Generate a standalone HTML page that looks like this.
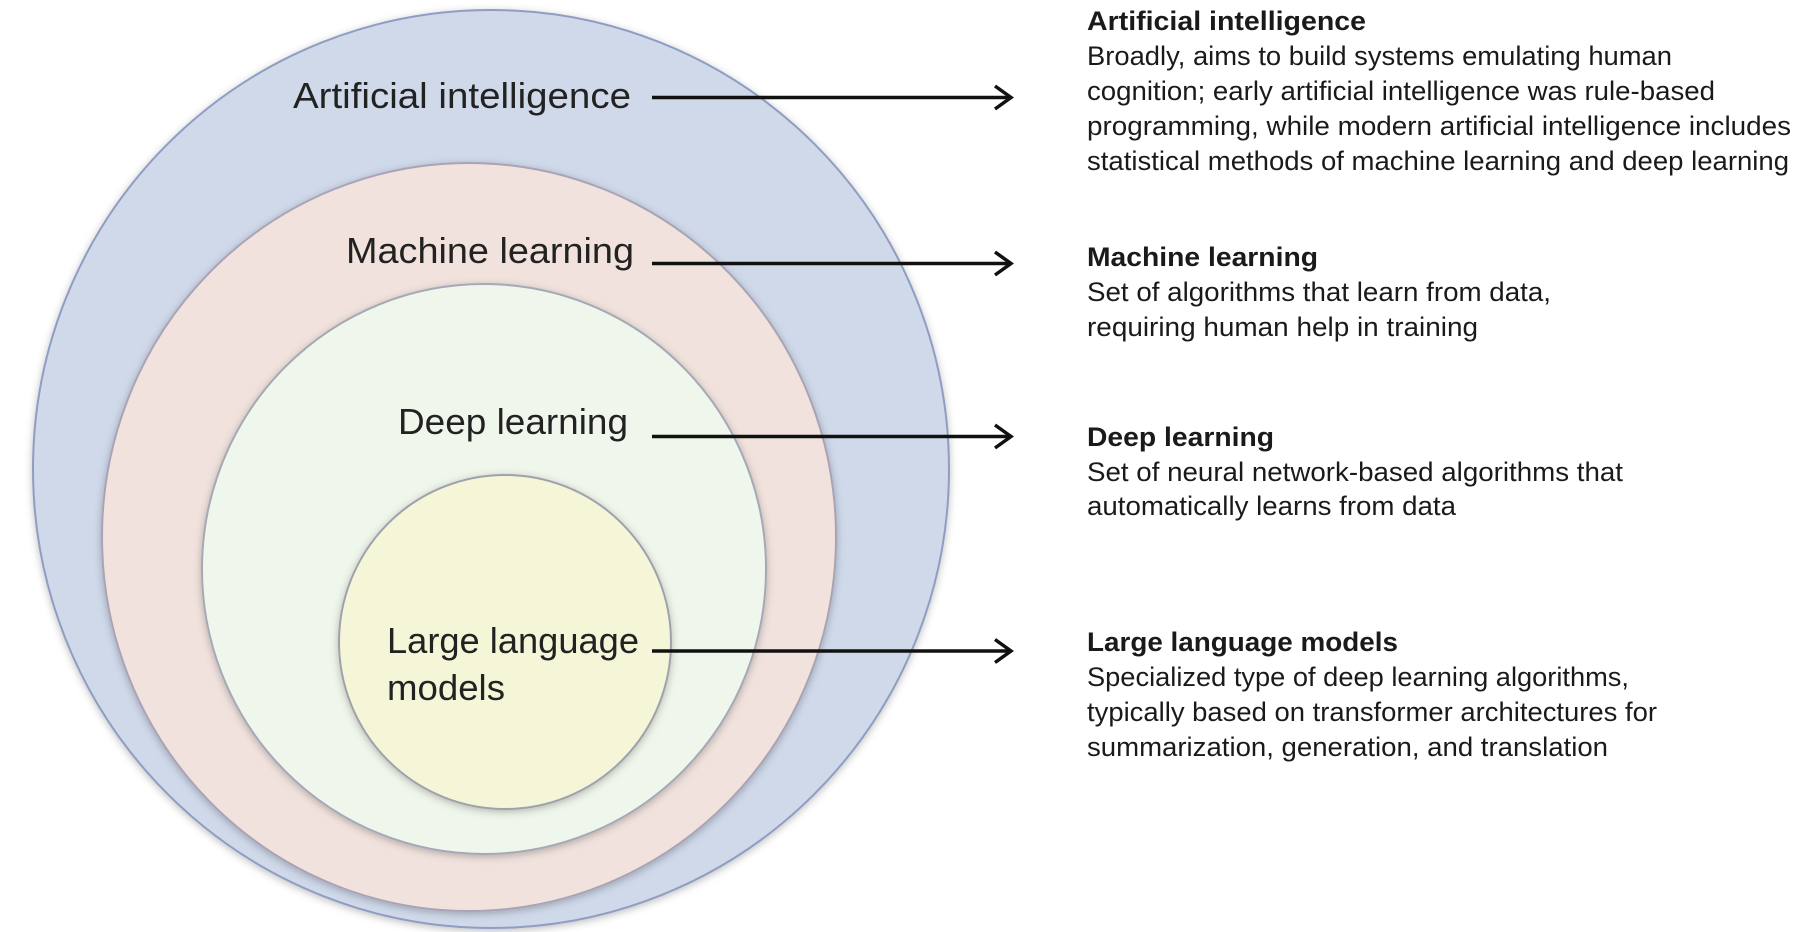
<!DOCTYPE html>
<html><head><meta charset="utf-8"><style>html,body{margin:0;padding:0;background:#fff}svg{display:block}</style></head>
<body>
<svg width="1800" height="932" viewBox="0 0 1800 932" xmlns="http://www.w3.org/2000/svg" font-family="'Liberation Sans Narrow','Liberation Sans',sans-serif" fill="#1a1a1a">
<defs>
<filter id="sh" x="-10%" y="-10%" width="120%" height="120%"><feDropShadow dx="0" dy="2" stdDeviation="4" flood-color="#000" flood-opacity="0.25"/></filter>
</defs>
<ellipse cx="491" cy="469" rx="458" ry="459" fill="#cfd9ea" stroke="#8f9dc2" stroke-width="2" filter="url(#sh)"/>
<ellipse cx="469" cy="537" rx="367" ry="374" fill="#f1e2dd" stroke="#a9a3b5" stroke-width="2" filter="url(#sh)"/>
<ellipse cx="484" cy="569" rx="282" ry="285" fill="#eff6eb" stroke="#a4a9b5" stroke-width="2" filter="url(#sh)"/>
<ellipse cx="505" cy="642" rx="166" ry="167" fill="#f5f5d8" stroke="#9fa1ac" stroke-width="2" filter="url(#sh)"/>

<g font-size="36" font-family="'Liberation Sans',sans-serif" fill="#222">
<text x="293" y="108" textLength="338" lengthAdjust="spacingAndGlyphs">Artificial intelligence</text>
<text x="346" y="263" textLength="288" lengthAdjust="spacingAndGlyphs">Machine learning</text>
<text x="398" y="434" textLength="230" lengthAdjust="spacingAndGlyphs">Deep learning</text>
<text x="387" y="653" textLength="252" lengthAdjust="spacingAndGlyphs">Large language</text>
<text x="387" y="700" textLength="118" lengthAdjust="spacingAndGlyphs">models</text>
</g>

<g stroke="#111" stroke-width="3.5" fill="none">
<line x1="652" y1="97.5" x2="1010" y2="97.5"/><polyline points="995,86 1011,97.5 995,109"/>
<line x1="652" y1="263.5" x2="1010" y2="263.5"/><polyline points="995,252 1011,263.5 995,275"/>
<line x1="652" y1="436.5" x2="1010" y2="436.5"/><polyline points="995,425 1011,436.5 995,448"/>
<line x1="652" y1="651" x2="1010" y2="651"/><polyline points="995,639.5 1011,651 995,662.5"/>
</g>

<g font-size="27">
<text x="1087" y="30" font-weight="bold" textLength="279" lengthAdjust="spacingAndGlyphs">Artificial intelligence</text>
<text x="1087" y="65" textLength="585" lengthAdjust="spacingAndGlyphs">Broadly, aims to build systems emulating human</text>
<text x="1087" y="100" textLength="628" lengthAdjust="spacingAndGlyphs">cognition; early artificial intelligence was rule-based</text>
<text x="1087" y="135" textLength="704" lengthAdjust="spacingAndGlyphs">programming, while modern artificial intelligence includes</text>
<text x="1087" y="170" textLength="702" lengthAdjust="spacingAndGlyphs">statistical methods of machine learning and deep learning</text>

<text x="1087" y="266" font-weight="bold" textLength="231" lengthAdjust="spacingAndGlyphs">Machine learning</text>
<text x="1087" y="301" textLength="464" lengthAdjust="spacingAndGlyphs">Set of algorithms that learn from data,</text>
<text x="1087" y="336" textLength="391" lengthAdjust="spacingAndGlyphs">requiring human help in training</text>

<text x="1087" y="446" font-weight="bold" textLength="187" lengthAdjust="spacingAndGlyphs">Deep learning</text>
<text x="1087" y="481" textLength="536" lengthAdjust="spacingAndGlyphs">Set of neural network-based algorithms that</text>
<text x="1087" y="515" textLength="369" lengthAdjust="spacingAndGlyphs">automatically learns from data</text>

<text x="1087" y="651" font-weight="bold" textLength="311" lengthAdjust="spacingAndGlyphs">Large language models</text>
<text x="1087" y="686" textLength="542" lengthAdjust="spacingAndGlyphs">Specialized type of deep learning algorithms,</text>
<text x="1087" y="721" textLength="570" lengthAdjust="spacingAndGlyphs">typically based on transformer architectures for</text>
<text x="1087" y="756" textLength="521" lengthAdjust="spacingAndGlyphs">summarization, generation, and translation</text>
</g>
</svg>
</body></html>
